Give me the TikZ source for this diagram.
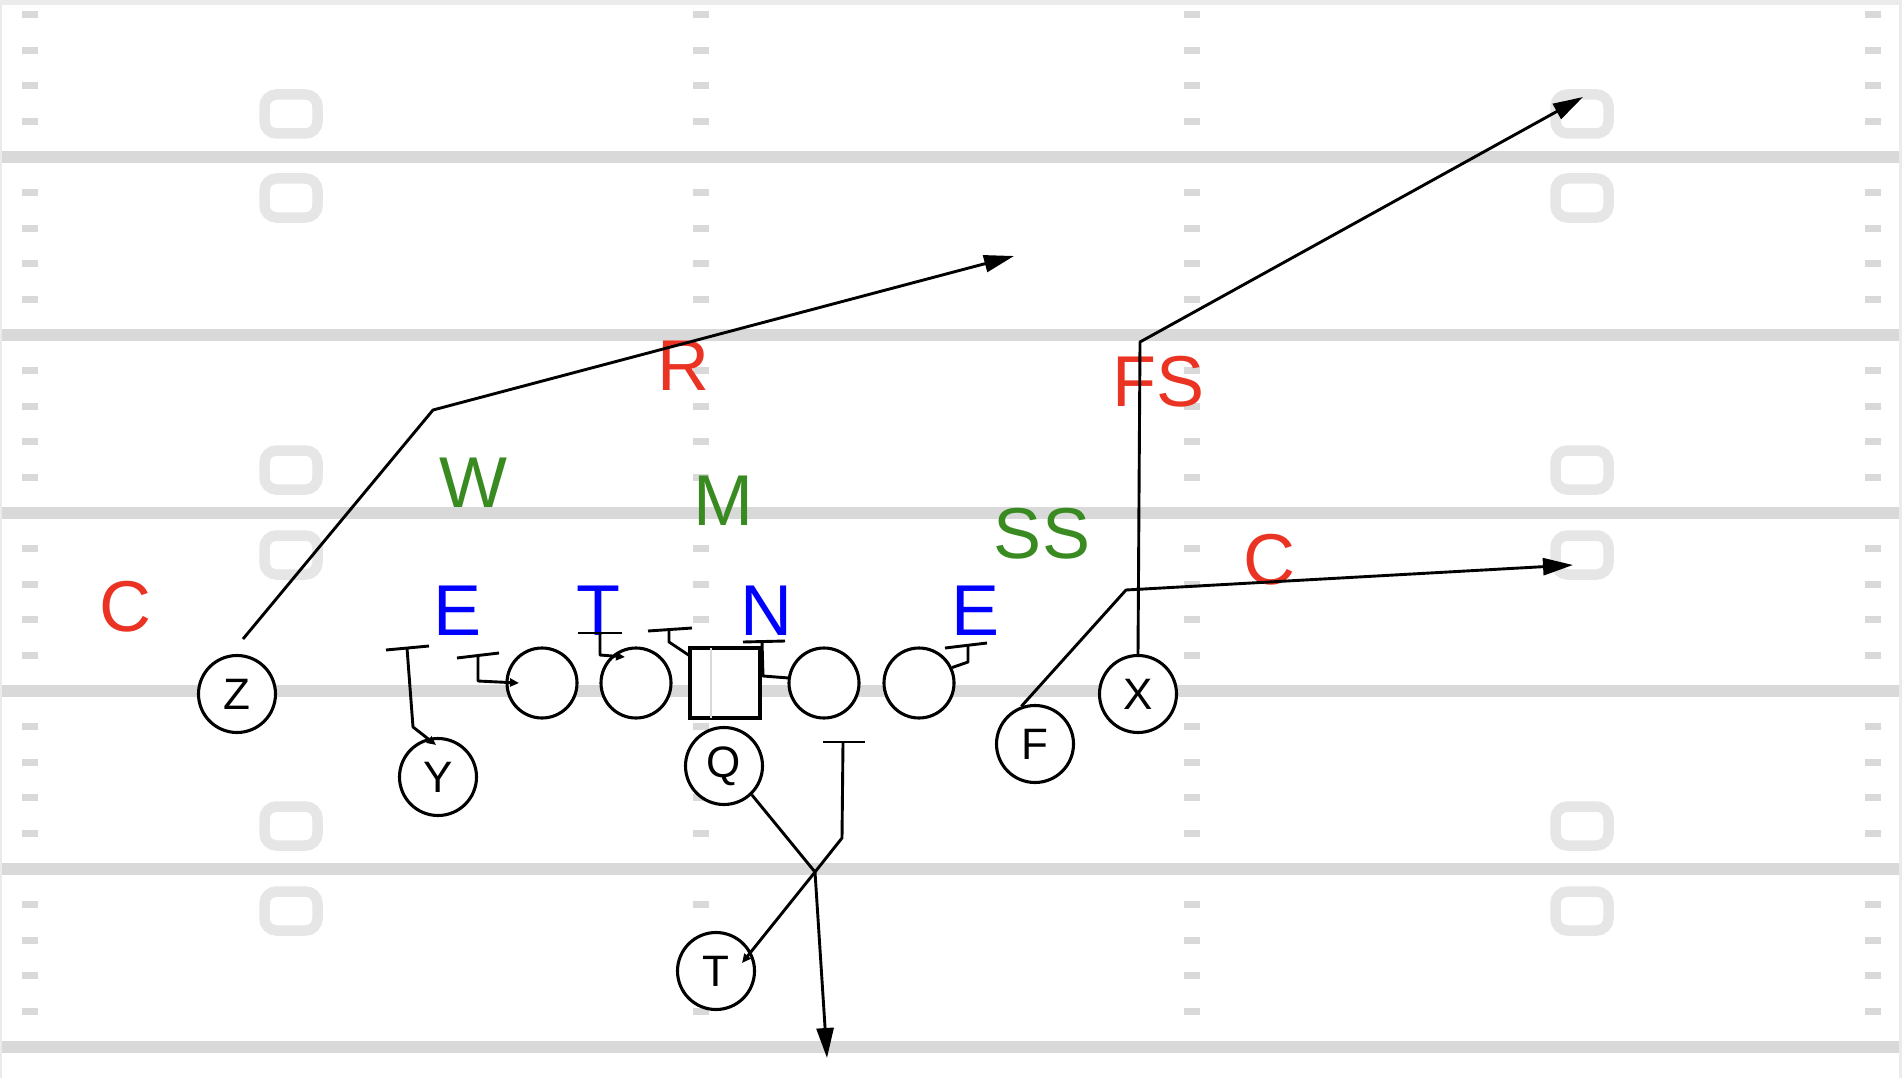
\documentclass[tikz,border=0pt]{standalone}
\usepackage{fontspec}
\setmainfont{Liberation Sans}
\usetikzlibrary{arrows.meta}
\definecolor{fline}{HTML}{D9D9D9}
\definecolor{fnum}{HTML}{E6E6E6}
\definecolor{fedge}{HTML}{EBEBEB}
\definecolor{dred}{HTML}{EB3324}
\definecolor{dgreen}{HTML}{3A8A22}
\definecolor{dblue}{HTML}{0000FF}
\tikzset{
  player/.style={circle, draw=black, line width=3.1pt, fill=white, minimum size=77pt, inner sep=0pt, font=\fontsize{44}{44}\selectfont},
  lineman/.style={circle, draw=black, line width=3.1pt, fill=white, minimum size=70pt, inner sep=0pt},
  snapbox/.style={rectangle, draw=black, line width=4.2pt, fill=white, minimum size=70pt, inner sep=0pt},
  deflabel/.style={inner sep=0pt, anchor=base, font=\fontsize{72}{72}\selectfont},
  route/.style={draw=black, line width=2.9pt, line join=round},
  bigtip/.style={-{Triangle[length=30pt,width=17pt]}},
  smalltip/.style={-{Triangle[length=9pt,width=8pt]}},
}
\begin{document}
\begin{tikzpicture}[x=1pt,y=-1pt]
\useasboundingbox (0,0) rectangle (1902,1078);
\fill[white] (0,0) rectangle (1902,1078);
% borders
\fill[fedge] (0,0) rectangle (1902,5);
\fill[fedge] (0,0) rectangle (2,1078);
\fill[fedge] (1899,0) rectangle (1902,1078);
% yard lines
\foreach \ly in {157,335,513,691,869,1047}
  \fill[fline] (2,\ly-6) rectangle (1899,\ly+6);
% hash marks
\foreach \hx in {30,701,1192,1873}
  \foreach \m in {0,...,5}
    \foreach \k in {1,...,4}
      \fill[fline] ({\hx-8},{-21+178*\m+35.6*\k-3.5}) rectangle ++(16,7);
% number shapes
\foreach \nx in {291,1582}
  \foreach \ny in {114,198,470,555,826,911}
    \draw[fnum, line width=10.5pt, rounded corners=12pt] (\nx-26.5,\ny-19.5) rectangle (\nx+26.5,\ny+19.5);

% offense
\node[player] (Z) at (237,694) {Z};
\node[player] (Y) at (438,777) {Y};
\node[player] (Q) at (724,766) {Q};
\node[player] (T) at (716,971) {T};
\node[player] (F) at (1035,744) {F};
\node[player] (X) at (1138,694) {X};
\node[lineman] (LT) at (542,683) {};
\node[lineman] (LG) at (636,683) {};
\node[snapbox] (CC) at (725,683) {};
\node[lineman] (RG) at (824,683) {};
\node[lineman] (RT) at (919,683) {};
\draw[fline, line width=1.2pt] ([xshift=-14pt,yshift=-2pt]CC.north) -- ([xshift=-14pt,yshift=2pt]CC.south);

% defense labels
\node[deflabel, text=dred] (R) at (683,390) {R};
\node[deflabel, text=dred] (FS) at (1158,406) {FS};
\node[deflabel, text=dred] (CL) at (125,631) {C};
\node[deflabel, text=dred] (CR) at (1269,584) {C};
\node[deflabel, text=dgreen] (W) at (473,507) {W};
\node[deflabel, text=dgreen] (M) at (723,525) {M};
\node[deflabel, text=dgreen] (SS) at (1042,558) {SS};
\node[deflabel, text=dblue] (EL) at (458,635) {E};
\node[deflabel, text=dblue] (TL) at (598,635) {T};
\node[deflabel, text=dblue] (NN) at (766,635) {N};
\node[deflabel, text=dblue] (ER) at (975,635) {E};

% route points
\coordinate (z0) at (243,639);
\coordinate (z1) at (433,410);
\coordinate (z2) at (1014,256);
\coordinate (x1) at (1140,342);
\coordinate (x2) at (1583,97);
\coordinate (f1) at (1126,590);
\coordinate (f2) at (1573,565);
\coordinate (qx) at (815,872);
\coordinate (q2) at (827,1058);
\coordinate (lb1) at (823,742);
\coordinate (lb2) at (865,742);
\coordinate (ls) at (843,742);
\coordinate (lk) at (842,838);
\coordinate (te) at (742,963);
\coordinate (yb1) at (386,650);
\coordinate (yb2) at (429,646);
\coordinate (ys) at (407,648);
\coordinate (yk) at (413,727);
\coordinate (ye) at (436,745);
\coordinate (eb1) at (457,658);
\coordinate (eb2) at (499,653);
\coordinate (es) at (478,655);
\coordinate (ek) at (478,681);
\coordinate (ee) at (519,683);
\coordinate (tb1) at (578,633);
\coordinate (tb2) at (622,633);
\coordinate (ts) at (600,633);
\coordinate (tk) at (600,655);
\coordinate (tt) at (625,657);
\coordinate (cb1) at (648,631);
\coordinate (cb2) at (692,628);
\coordinate (cs) at (669,630);
\coordinate (ck) at (669,642);
\coordinate (ce) at (690,656);
\coordinate (nb1) at (743,642);
\coordinate (nb2) at (785,641);
\coordinate (ns) at (762,641);
\coordinate (nk) at (763,676);
\coordinate (rb1) at (945,648);
\coordinate (rb2) at (987,643);
\coordinate (rs) at (968,645);
\coordinate (rk) at (968,662);

% routes
\draw[route, bigtip] (z0) -- (z1) -- (z2);
\draw[route, bigtip] (X.north) -- (x1) -- (x2);
\draw[route, bigtip] (F.110) -- (f1) -- (f2);
\draw[route, bigtip] (Q.-46) -- (qx) -- (q2);
\draw[route] (lb1) -- (lb2);
\draw[route, smalltip] (ls) -- (lk) -- (qx) -- (te);
\draw[route] (yb1) -- (yb2);
\draw[route, smalltip] (ys) -- (yk) -- (ye);
\draw[route] (eb1) -- (eb2);
\draw[route, smalltip] (es) -- (ek) -- (ee);
\draw[route] (tb1) -- (tb2);
\draw[route, smalltip] (ts) -- (tk) -- (tt);
\draw[route] (cb1) -- (cb2);
\draw[route] (cs) -- (ck) -- (ce);
\draw[route] (nb1) -- (nb2);
\draw[route] (ns) -- (nk) -- (RG.172);
\draw[route] (rb1) -- (rb2);
\draw[route] (rs) -- (rk) -- (RT.25);
\end{tikzpicture}
\end{document}
